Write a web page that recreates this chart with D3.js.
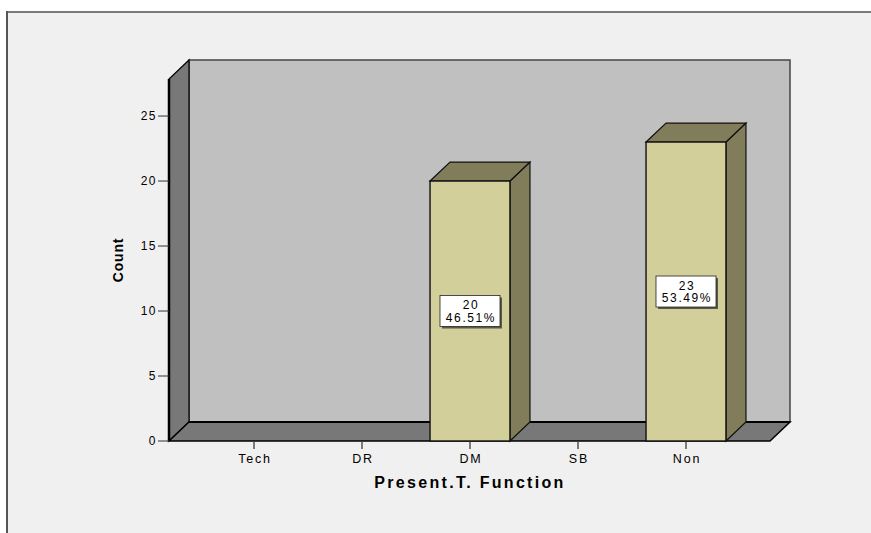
<!DOCTYPE html>
<html>
<head>
<meta charset="utf-8">
<script src="https://cdn.jsdelivr.net/npm/d3@7/dist/d3.min.js"></script>
<style>
  html, body { margin: 0; padding: 0; background: #ffffff; }
  svg { display: block; }
  text { font-family: "Liberation Sans", Arial, sans-serif; }
</style>
</head>
<body>
<svg id="chart" width="871" height="533"></svg>
<script>
// Present.T. Function counts
const categories = ["Tech", "DR", "DM", "SB", "Non"];
const counts = [0, 0, 20, 0, 23];
const percentLabels = ["", "", "46.51%", "", "53.49%"];
const yTicks = [0, 5, 10, 15, 20, 25];
const yTitle = "Count";
const xTitle = "Present.T. Function";

(function () {
const W = 871, H = 533;
const svg = d3.select("#chart");

// 3-D depth offset of the plot box
const DX = 20, DY = -19;

// front plane of the plot
const plotLeft = 169, plotRight = 770, plotBottom = 441, plotTop = 79;

const y = d3.scaleLinear().domain([0, 27.85]).range([plotBottom, plotTop]);
const x = d3.scaleBand().domain(categories).range([200, 740])
  .paddingInner(0.26).paddingOuter(0.13);

// page frame
svg.append("rect").attr("x", 0).attr("y", 0).attr("width", W).attr("height", H).attr("fill", "#ffffff");
svg.append("rect").attr("x", 6).attr("y", 11).attr("width", W - 6).attr("height", H - 11).attr("fill", "#f0f0f0");
svg.append("line").attr("x1", 6).attr("x2", W).attr("y1", 12).attr("y2", 12)
  .attr("stroke", "#7a7a7a").attr("stroke-width", 2);
svg.append("line").attr("x1", 7).attr("x2", 7).attr("y1", 11).attr("y2", H)
  .attr("stroke", "#555555").attr("stroke-width", 2);

const poly = pts => pts.map(p => p.join(",")).join(" ");
const y0 = y(0), yTop = y.range()[1];
const L = plotLeft, R = plotRight;

// back wall
svg.append("polygon")
  .attr("points", poly([[L + DX, yTop + DY], [R + DX, yTop + DY], [R + DX, y0 + DY], [L + DX, y0 + DY]]))
  .attr("fill", "#c0c0c0").attr("stroke", "#444").attr("stroke-width", 1.5);

// left wall
svg.append("polygon")
  .attr("points", poly([[L, y0], [L, yTop], [L + DX, yTop + DY], [L + DX, y0 + DY]]))
  .attr("fill", "#787878").attr("stroke", "#000").attr("stroke-width", 1.2);
svg.append("line").attr("x1", L).attr("x2", L).attr("y1", yTop).attr("y2", y0)
  .attr("stroke", "#000").attr("stroke-width", 2.5);

// floor
svg.append("polygon")
  .attr("points", poly([[L, y0], [R, y0], [R + DX, y0 + DY], [L + DX, y0 + DY]]))
  .attr("fill", "#787878").attr("stroke", "#000").attr("stroke-width", 1.5);
svg.append("line").attr("x1", L + DX).attr("x2", R + DX).attr("y1", y0 + DY).attr("y2", y0 + DY)
  .attr("stroke", "#000").attr("stroke-width", 2.2);

// bars
const data = categories.map((c, i) => ({ cat: c, value: counts[i], pct: percentLabels[i] }));
const bars = svg.append("g").selectAll("g").data(data.filter(d => d.value > 0)).join("g");

bars.append("polygon") // side face
  .attr("points", d => {
    const x1 = x(d.cat) + x.bandwidth();
    return poly([[x1, y(d.value)], [x1 + DX, y(d.value) + DY], [x1 + DX, y0 + DY], [x1, y0]]);
  })
  .attr("fill", "#817d5b").attr("stroke", "#111").attr("stroke-width", 1.2);

bars.append("polygon") // top face
  .attr("points", d => {
    const x0 = x(d.cat), x1 = x0 + x.bandwidth(), yv = y(d.value);
    return poly([[x0, yv], [x0 + DX, yv + DY], [x1 + DX, yv + DY], [x1, yv]]);
  })
  .attr("fill", "#817d5b").attr("stroke", "#111").attr("stroke-width", 1.2);

bars.append("rect") // front face
  .attr("x", d => x(d.cat)).attr("y", d => y(d.value))
  .attr("width", x.bandwidth()).attr("height", d => y0 - y(d.value))
  .attr("fill", "#d3cf9a").attr("stroke", "#111").attr("stroke-width", 1.4);

// value labels
const bw = 60, bh = 31;
const lab = bars.append("g")
  .attr("transform", d => `translate(${x(d.cat) + x.bandwidth() / 2},${(y(d.value) + y0) / 2})`);
lab.append("rect").attr("x", -bw / 2 + 2).attr("y", -bh / 2 + 2).attr("width", bw).attr("height", bh)
  .attr("fill", "#5a5a4a");
lab.append("rect").attr("x", -bw / 2).attr("y", -bh / 2).attr("width", bw).attr("height", bh)
  .attr("fill", "#ffffff").attr("stroke", "#222").attr("stroke-width", 0.8);
lab.append("text").attr("text-anchor", "middle").attr("x", 1).attr("y", -2)
  .attr("font-size", 12).attr("letter-spacing", 1.6).attr("fill", "#000")
  .text(d => d.value);
lab.append("text").attr("text-anchor", "middle").attr("x", 1).attr("y", 10.5)
  .attr("font-size", 12).attr("letter-spacing", 1.6).attr("fill", "#000")
  .text(d => d.pct);

// y axis ticks and labels
const yAxis = svg.append("g");
yAxis.selectAll("line").data(yTicks).join("line")
  .attr("x1", 158).attr("x2", L).attr("y1", d => y(d)).attr("y2", d => y(d))
  .attr("stroke", "#333").attr("stroke-width", 1);
yAxis.selectAll("text").data(yTicks).join("text")
  .attr("x", 157).attr("y", d => y(d) + 4).attr("text-anchor", "end")
  .attr("font-size", 12).attr("letter-spacing", 1.5).attr("fill", "#000")
  .text(d => d);

// x axis ticks and labels
const xAxis = svg.append("g");
xAxis.selectAll("line").data(categories).join("line")
  .attr("x1", d => x(d) + x.bandwidth() / 2).attr("x2", d => x(d) + x.bandwidth() / 2)
  .attr("y1", y0 + 1).attr("y2", y0 + 8)
  .attr("stroke", "#555").attr("stroke-width", 1.5);
xAxis.selectAll("text").data(categories).join("text")
  .attr("x", d => x(d) + x.bandwidth() / 2 + 1).attr("y", 463).attr("text-anchor", "middle")
  .attr("font-size", 12.5).attr("letter-spacing", 1.8).attr("fill", "#000")
  .text(d => d);

// axis titles
svg.append("text").attr("x", 470).attr("y", 488).attr("text-anchor", "middle")
  .attr("font-size", 16).attr("font-weight", "bold").attr("letter-spacing", 2.3).attr("fill", "#000")
  .text(xTitle);
svg.append("text").attr("transform", "translate(123,260) rotate(-90)").attr("text-anchor", "middle")
  .attr("font-size", 14).attr("font-weight", "bold").attr("letter-spacing", 0.8).attr("fill", "#000")
  .text(yTitle);
})();
</script>
</body>
</html>
